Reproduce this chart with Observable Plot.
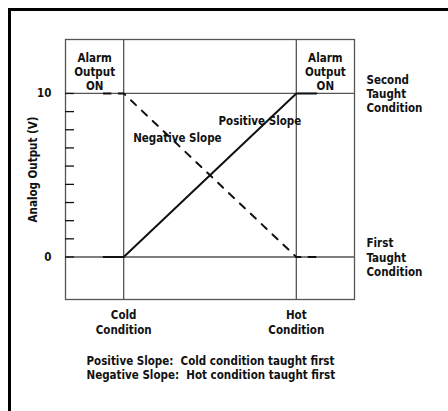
<!DOCTYPE html>
<html><head><meta charset="utf-8">
<script src="https://cdn.jsdelivr.net/npm/d3@7"></script>
<script src="https://cdn.jsdelivr.net/npm/@observablehq/plot@0.6"></script>
<style>
body{margin:0;background:#fff;}
#wrap{position:relative;width:448px;height:411px;overflow:hidden;}
#border{position:absolute;left:8px;top:8px;right:-10px;bottom:-10px;border-left:3px solid #000;border-top:3px solid #000;pointer-events:none;}
svg text{font-family:"DejaVu Sans Condensed","DejaVu Sans",sans-serif;font-stretch:condensed;font-weight:bold;white-space:pre;}
</style></head><body><div id="wrap"></div>
<script>
const conditionLabels = ["Cold\nCondition", "Hot\nCondition"];
const conditionX = [0, 1];
const levelValues = [0, 10];
const levelLabels = ["0", "10"];
const tickValues = [0, 1.11, 2.22, 3.33, 4.44, 5.56, 6.67, 7.78, 8.89, 10];
const positiveX = [-0.116, 0, 1, 1.116];
const positiveY = [0, 0, 10, 10];
const negativeX = [-0.116, 0, 1, 1.116];
const negativeY = [10, 10, 0, 0];
const alarmLabel = "Alarm\nOutput\nON";
const alarmX = [-0.168, 1.168];
const taughtLabels = ["First\nTaught\nCondition", "Second\nTaught\nCondition"];
const slopeLabels = ["Positive Slope", "Negative Slope"];
const slopeLabelX = [0.549, 0.055];
const slopeLabelY = [8.29, 7.28];
const yLabel = "Analog Output (V)";
const captionLines = ["Positive Slope:  Cold condition taught first", "Negative Slope:  Hot condition taught first"];

const positive = positiveX.map((x, i) => ({x, y: positiveY[i]}));
const negative = negativeX.map((x, i) => ({x, y: negativeY[i]}));

const chart = Plot.plot({
  width: 448, height: 411,
  marginLeft: 65, marginRight: 94, marginTop: 39, marginBottom: 112,
  x: {domain: [-0.337, 1.337], axis: null},
  y: {domain: [-2.6, 13.3], axis: null},
  style: {background: "transparent", fontSize: "11.5px", color: "#111"},
  marks: [
    Plot.frame({stroke: "#555", strokeWidth: 1.3}),
    Plot.ruleX(conditionX, {stroke: "#555", strokeWidth: 1.3}),
    Plot.ruleY(levelValues, {stroke: "#555", strokeWidth: 1.3}),
    Plot.tickY(tickValues, {y: d => d, insetRight: 280, stroke: "#111", strokeWidth: 1.3}),
    Plot.line(positive, {x: "x", y: "y", stroke: "#111", strokeWidth: 2}),
    Plot.line(negative, {x: "x", y: "y", stroke: "#111", strokeWidth: 2, strokeDasharray: "7,8"}),
    Plot.text(levelValues, {y: d => d, text: (d, i) => levelLabels[i], frameAnchor: "left", textAnchor: "end", dx: -14}),
    Plot.text([yLabel], {frameAnchor: "left", textAnchor: "middle", rotate: -90, dx: -32}),
    Plot.text(alarmX, {x: d => d, y: () => 10, text: () => alarmLabel, lineAnchor: "bottom", lineHeight: 1.25, dy: -3}),
    Plot.text(levelValues, {y: d => d, text: (d, i) => taughtLabels[i], frameAnchor: "right", textAnchor: "start", dx: 12, lineAnchor: "middle", lineHeight: 1.25}),
    Plot.text(conditionX, {x: d => d, text: (d, i) => conditionLabels[i], frameAnchor: "bottom", lineAnchor: "top", lineHeight: 1.3, dy: 9}),
    Plot.text(slopeLabels, {x: (d, i) => slopeLabelX[i], y: (d, i) => slopeLabelY[i], textAnchor: "start"}),
    Plot.text([captionLines.join("\n")], {frameAnchor: "bottom-left", textAnchor: "start", lineAnchor: "top", lineHeight: 1.2, dx: 21, dy: 56})
  ]
});
const wrap = document.getElementById("wrap");
wrap.appendChild(chart);
const border = document.createElement("div");
border.id = "border";
wrap.appendChild(border);
</script>
</body></html>
